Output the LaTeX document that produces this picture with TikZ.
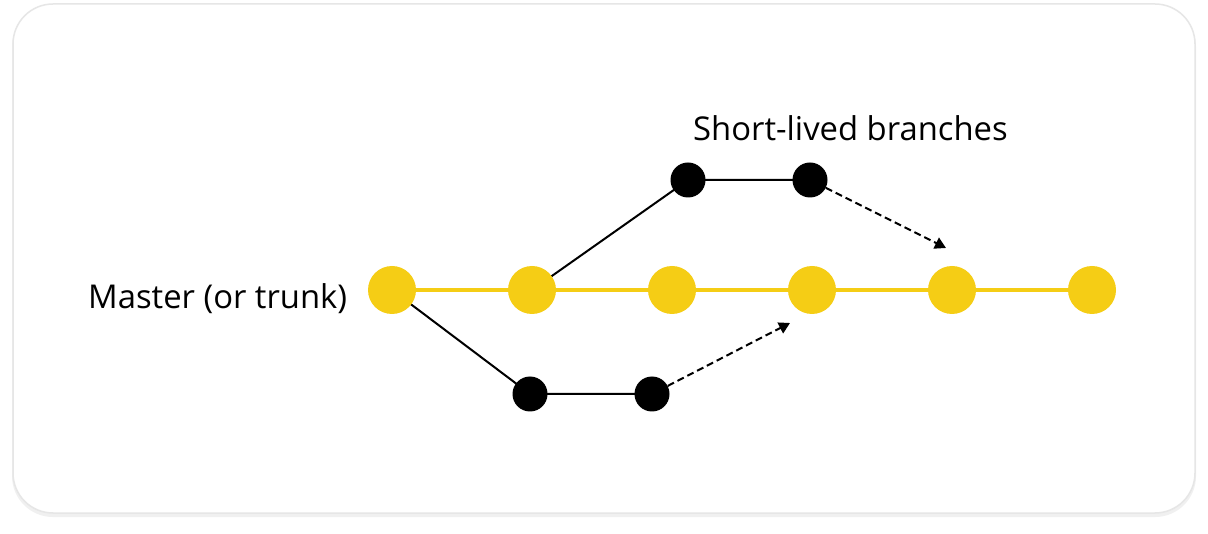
\documentclass[tikz,border=0pt]{standalone}
\usepackage{fontspec}
\setmainfont{Open Sans}
\usetikzlibrary{arrows.meta,backgrounds}
\definecolor{trunkyellow}{HTML}{F5CD15}
\definecolor{cardborder}{HTML}{E6E6E6}
\definecolor{cardshadow}{HTML}{F0F0F0}
\tikzset{
  trunk/.style={circle,fill=trunkyellow,draw=none,minimum size=48pt,inner sep=0pt},
  commit/.style={circle,fill=black,draw=none,minimum size=35pt,inner sep=0pt},
  trunkline/.style={trunkyellow,line width=3.5pt},
  branchline/.style={black,line width=2pt},
  mergearrow/.style={black,line width=2pt,dash pattern=on 7pt off 4pt,-{Triangle[length=11pt,width=12pt]}},
  label/.style={font=\fontsize{32.8pt}{36pt}\selectfont,inner sep=0pt}
}
\begin{document}
\begin{tikzpicture}[x=1pt,y=-1pt]
\useasboundingbox (0,0) rectangle (1208,534);
% trunk
\node[trunk] (t1) at (392,290) {};
\node[trunk] (t2) at (532,290) {};
\node[trunk] (t3) at (672,290) {};
\node[trunk] (t4) at (812,290) {};
\node[trunk] (t5) at (952,290) {};
\node[trunk] (t6) at (1092,290) {};
% branch commits
\node[commit] (a1) at (688,180) {};
\node[commit] (a2) at (810,180) {};
\node[commit] (b1) at (530,394) {};
\node[commit] (b2) at (652,394) {};
\coordinate (ua) at (946,248);
\coordinate (la) at (790,323);
\begin{scope}[on background layer]
\fill[white] (0,0) rectangle (1208,534);
\fill[cardshadow,rounded corners=41pt] (12,6) rectangle (1196,517);
\draw[cardborder,line width=1.5pt,fill=white,rounded corners=40pt]
  (13,4) rectangle (1195,513);
\draw[trunkline] (t1.center) -- (t2.center) -- (t3.center) -- (t4.center) -- (t5.center) -- (t6.center);
\draw[branchline] (t2.center) -- (a1.center) -- (a2.center);
\draw[branchline] (t1.center) -- (b1.center) -- (b2.center);
\end{scope}
\draw[mergearrow] (a2) -- (ua);
\draw[mergearrow] (b2) -- (la);
% labels
\node[label,anchor=base west] (ml) at (88,309) {Master (or trunk)};
\node[label,anchor=base west] (sl) at (693,141) {Short-lived branches};
\end{tikzpicture}
\end{document}
